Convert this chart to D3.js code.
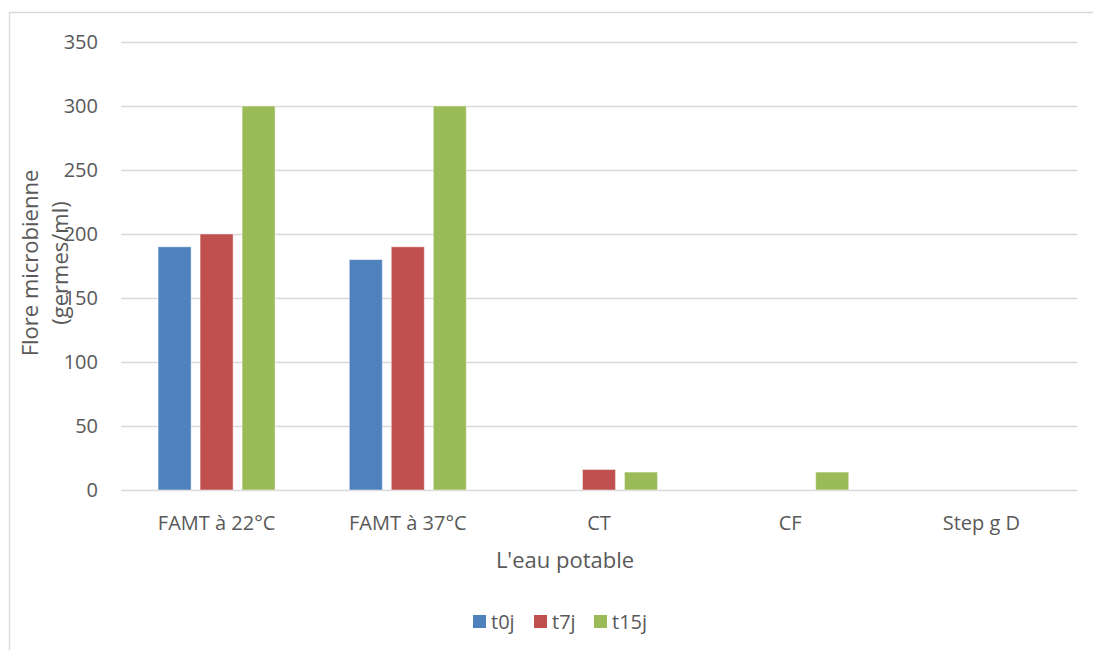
<!DOCTYPE html>
<html lang="fr">
<head>
<meta charset="UTF-8">
<style>
  body { margin: 0; background: #fff; font-family: "Open Sans", sans-serif; }
  .grid line { stroke: #d9d9d9; stroke-width: 1.3px; }
  .tick-label { fill: #595959; font-size: 20px; }
  .cat-label { fill: #595959; font-size: 20px; }
  .title { fill: #595959; font-size: 22px; }
  .legend-text { fill: #595959; font-size: 20px; }
</style>
</head>
<body>
<div id="wrapper"></div>
<script src="https://cdnjs.cloudflare.com/ajax/libs/d3/7.8.5/d3.min.js"></script>
<script>
  // DATA
  const categories = ["FAMT à 22°C", "FAMT à 37°C", "CT", "CF", "Step g D"]
  const seriesNames = ["t0j", "t7j", "t15j"]
  const t0j  = [190, 180, 0, 0, 0]
  const t7j  = [200, 190, 16, 0, 0]
  const t15j = [300, 300, 14, 14, 0]
  const yTicks = [0, 50, 100, 150, 200, 250, 300, 350]
  const colors = ["#4F81BD", "#C0504D", "#9BBB59"]

  const seriesValues = [t0j, t7j, t15j]

  const width = 1093, height = 650
  const dims = { left: 121, right: 1077, top: 42, bottom: 490 }

  const svg = d3.select("#wrapper").append("svg")
    .attr("width", width).attr("height", height)

  // chart frame
  svg.append("path")
    .attr("d", "M9.5,650 L9.5,12.5 L1093,12.5")
    .attr("fill", "none").attr("stroke", "#d9d9d9").attr("stroke-width", 1.3)

  const x = d3.scaleBand().domain(categories).range([dims.left, dims.right])
  const x1 = d3.scaleBand().domain(seriesNames)
    .range([0, x.bandwidth()]).paddingInner(0.214).paddingOuter(0.883)
  const y = d3.scaleLinear().domain([0, 350]).range([dims.bottom, dims.top])

  // gridlines
  svg.append("g").attr("class", "grid")
    .selectAll("line").data(yTicks).join("line")
      .attr("x1", dims.left).attr("x2", dims.right)
      .attr("y1", d => Math.round(y(d)) + 0.5).attr("y2", d => Math.round(y(d)) + 0.5)

  // y tick labels
  svg.append("g").selectAll("text").data(yTicks).join("text")
    .attr("class", "tick-label")
    .attr("x", 98).attr("y", d => y(d))
    .attr("dy", "0.36em").attr("text-anchor", "end")
    .text(d => d)

  // bars
  const groups = svg.append("g").selectAll("g").data(categories).join("g")
    .attr("transform", d => `translate(${x(d)},0)`)
  groups.selectAll("rect")
    .data((c, i) => seriesNames.map((s, j) => ({ s, j, v: seriesValues[j][i] })))
    .join("rect")
      .filter(d => d.v > 0)
      .attr("x", d => x1(d.s))
      .attr("width", x1.bandwidth())
      .attr("y", d => y(d.v))
      .attr("height", d => y(0) - y(d.v))
      .attr("fill", d => colors[d.j])
      .attr("stroke", "#fff").attr("stroke-opacity", 0.45).attr("stroke-width", 1)

  // category labels
  svg.append("g").selectAll("text").data(categories).join("text")
    .attr("class", "cat-label")
    .attr("x", d => x(d) + x.bandwidth() / 2).attr("y", 530)
    .attr("text-anchor", "middle")
    .text(d => d)

  // axis titles
  svg.append("text").attr("class", "title")
    .attr("x", 565).attr("y", 568)
    .attr("text-anchor", "middle").text("L'eau potable")

  // y title: second line sits over the tick labels, as in the original
  const yTitle = svg.append("text").attr("class", "title")
    .attr("transform", "translate(38,263) rotate(-90)")
    .attr("text-anchor", "middle")
  yTitle.append("tspan").attr("x", 0).attr("dy", 0).text("Flore microbienne")
  yTitle.append("tspan").attr("x", 0).attr("dy", 30).text("(germes/ml)")

  // legend
  const legendItems = [
    { name: "t0j", x: 473 },
    { name: "t7j", x: 534 },
    { name: "t15j", x: 594 }
  ]
  const legend = svg.append("g").selectAll("g").data(legendItems).join("g")
    .attr("transform", d => `translate(${d.x},615)`)
  legend.append("rect").attr("width", 13).attr("height", 13)
    .attr("fill", (d, i) => colors[i])
  legend.append("text").attr("class", "legend-text")
    .attr("x", 18).attr("y", 7).attr("dy", "0.36em")
    .text(d => d.name)
</script>
</body>
</html>
